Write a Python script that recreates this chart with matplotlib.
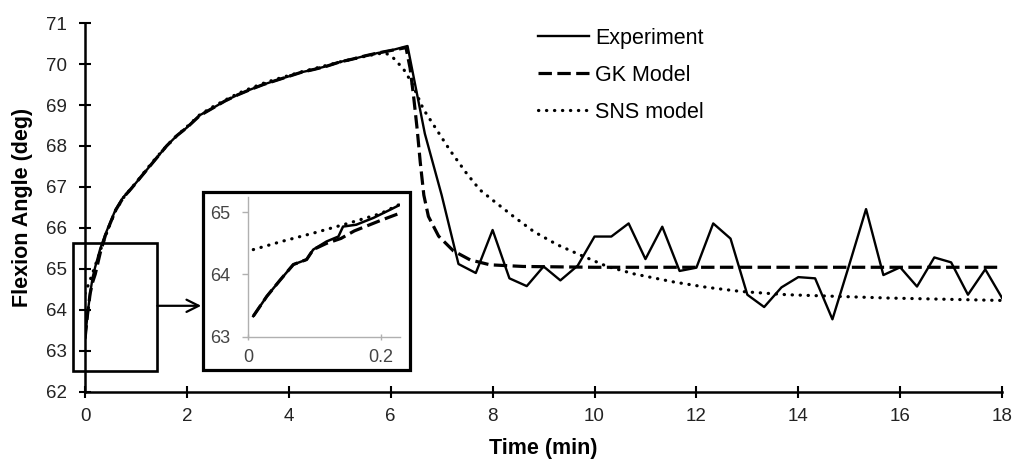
import matplotlib
matplotlib.use("Agg")
import matplotlib.pyplot as plt
from matplotlib.patches import Rectangle

plt.rcParams['font.family'] = ['Liberation Sans', 'DejaVu Sans']

# experiment (min, deg)
exp_t = [0.0, 0.05, 0.1, 0.15, 0.2, 0.3, 0.4, 0.5, 0.6, 0.75, 0.9, 1.0, 1.2, 1.4,
         1.6, 1.8, 2.0, 2.25, 2.5, 2.75, 3.0, 3.25, 3.5, 3.75, 4.0, 4.25, 4.5,
         4.75, 5.0, 5.25, 5.5, 5.75, 6.0,
         6.33, 6.67, 7.0, 7.33, 7.67, 8.0, 8.33, 8.67, 9.0, 9.33, 9.67, 10.0,
         10.33, 10.67, 11.0, 11.33, 11.67, 12.0, 12.33, 12.67, 13.0, 13.33,
         13.67, 14.0, 14.33, 14.67, 15.0, 15.33, 15.67, 16.0, 16.33, 16.67,
         17.0, 17.33, 17.67, 18.0]
exp_y = [63.3, 63.9, 64.4, 64.8, 65.05, 65.5, 65.85, 66.15, 66.45, 66.75, 66.95,
         67.1, 67.4, 67.7, 68.0, 68.25, 68.45, 68.75, 68.92, 69.1, 69.25, 69.38,
         69.5, 69.6, 69.7, 69.8, 69.87, 69.95, 70.05, 70.12, 70.2, 70.27, 70.33,
         70.44, 68.3, 66.8, 65.12, 64.9, 65.95, 64.77, 64.58, 65.06, 64.72,
         65.08, 65.79, 65.79, 66.11, 65.24, 66.03, 64.95, 65.03, 66.11, 65.74,
         64.37, 64.07, 64.55, 64.8, 64.77, 63.77, 65.1, 66.46, 64.85, 65.04,
         64.57, 65.28, 65.16, 64.37, 64.99, 64.29]

# GK model
gk_t = [0.0, 0.05, 0.1, 0.15, 0.2, 0.3, 0.4, 0.5, 0.6, 0.75, 0.9, 1.0, 1.2, 1.4,
        1.6, 1.8, 2.0, 2.25, 2.5, 2.75, 3.0, 3.25, 3.5, 3.75, 4.0, 4.25, 4.5,
        4.75, 5.0, 5.25, 5.5, 5.75, 6.0, 6.3,
        6.38, 6.45, 6.52, 6.58, 6.65, 6.74, 6.94, 7.23, 7.56, 7.95, 8.6, 10.0, 18.0]
gk_y = [63.3, 63.9, 64.4, 64.68, 64.87, 65.4, 65.82, 66.13, 66.43, 66.74, 66.95,
        67.1, 67.4, 67.7, 68.0, 68.25, 68.45, 68.74, 68.92, 69.1, 69.25, 69.38,
        69.5, 69.6, 69.7, 69.8, 69.87, 69.95, 70.05, 70.12, 70.2, 70.27, 70.33,
        70.4, 69.9, 69.2, 68.4, 67.6, 66.8, 66.28, 65.8, 65.44, 65.22, 65.1,
        65.06, 65.04, 65.04]

# SNS model
sns_t = [0.0, 0.1, 0.2, 0.3, 0.4, 0.5, 0.6, 0.75, 0.9, 1.0, 1.2, 1.4, 1.6, 1.8,
         2.0, 2.25, 2.5, 2.75, 3.0, 3.25, 3.5, 3.75, 4.0, 4.25, 4.5, 4.75, 5.0,
         5.25, 5.5, 5.75, 5.9, 6.05, 6.25, 6.41, 6.64, 6.9, 7.16, 7.49, 7.75,
         8.02, 8.41, 8.81, 9.27, 9.72, 10.25, 10.77, 11.56, 12.21, 12.87,
         13.78, 15.75, 18.0]
sns_y = [64.4, 64.73, 65.08, 65.45, 65.8, 66.12, 66.42, 66.73, 66.96, 67.1,
         67.42, 67.72, 68.0, 68.25, 68.47, 68.76, 68.95, 69.12, 69.28, 69.41,
         69.53, 69.63, 69.72, 69.81, 69.89, 69.97, 70.05, 70.12, 70.19, 70.25,
         70.27, 70.15, 69.88, 69.55, 68.9, 68.4, 67.9, 67.33, 66.93, 66.66,
         66.28, 65.91, 65.59, 65.34, 65.06, 64.88, 64.68, 64.55, 64.45, 64.37,
         64.29, 64.23]

# inset (first 0.23 min)
in_exp_t = [0.0075, 0.028, 0.048, 0.068, 0.088, 0.098, 0.118, 0.136, 0.143,
            0.163, 0.189, 0.214, 0.229]
in_exp_y = [63.33, 63.65, 63.91, 64.16, 64.24, 64.4, 64.53, 64.61, 64.77,
            64.8, 64.91, 65.04, 65.12]
in_gk_t = [0.0075, 0.028, 0.048, 0.068, 0.088, 0.098, 0.118, 0.14, 0.16, 0.2, 0.225]
in_gk_y = [63.33, 63.65, 63.91, 64.16, 64.24, 64.4, 64.5, 64.58, 64.7, 64.87, 64.97]
in_sns_t = [0.0075, 0.05, 0.1, 0.15, 0.2, 0.229]
in_sns_y = [64.4, 64.53, 64.67, 64.82, 64.98, 65.13]

xticks = list(range(0, 19, 2))
yticks = list(range(62, 72))

fig = plt.figure(figsize=(10.16, 4.61), dpi=100)
ax = fig.add_axes([0.0837, 0.150, 0.9026, 0.800])

ax.plot(exp_t, exp_y, color='black', lw=1.7, label='Experiment', zorder=3)
ax.plot(gk_t, gk_y, color='black', lw=2.3, linestyle=(0, (4.2, 1.7)),
        label='GK Model', zorder=4)
ax.plot(sns_t, sns_y, color='black', lw=2.3, linestyle=(0, (0.1, 2.4)),
        dash_capstyle='round', label='SNS model', zorder=5)

ax.set_xlim(0, 18)
ax.set_ylim(62, 71)
ax.set_xticks(xticks)
ax.set_yticks(yticks)
for s in ['top', 'right']:
    ax.spines[s].set_visible(False)
for s in ['left', 'bottom']:
    ax.spines[s].set_linewidth(1.8)
ax.tick_params(direction='inout', length=8.5, width=1.5, labelsize=13.5,
               labelcolor='#222222')
ax.tick_params(axis='y', pad=9)
ax.tick_params(axis='x', pad=7.5)
ax.set_xlabel('Time (min)', fontsize=15.5, fontweight='bold')
ax.set_ylabel('Flexion Angle (deg)', fontsize=15.5, fontweight='bold')
ax.xaxis.set_label_coords(0.5, -0.124)
ax.yaxis.set_label_coords(-0.057, 0.5)

leg = ax.legend(loc='upper left', bbox_to_anchor=(538 / 1016, 0.940),
                bbox_transform=fig.transFigure, frameon=False, fontsize=15.5,
                handlelength=2.35, handletextpad=0.32, labelspacing=0.75,
                borderpad=0, borderaxespad=0)

# zoom box + arrow
ax.add_patch(Rectangle((-0.24, 62.52), 1.66, 3.11, fill=False, lw=1.9,
                       edgecolor='black', clip_on=False, zorder=6))
ax.annotate('', xy=(2.28, 64.1), xytext=(1.42, 64.1),
            arrowprops=dict(arrowstyle='->', lw=1.6, color='black',
                            mutation_scale=22, shrinkA=0, shrinkB=0))

# inset frame
fig.patches.append(Rectangle((0.2001, 0.1974), 0.2034, 0.3868, fill=True,
                             facecolor='white', edgecolor='black', lw=2.3,
                             transform=fig.transFigure, figure=fig, zorder=2))

ins = fig.add_axes([0.2444, 0.2696, 0.1493, 0.3037])
ins.set_zorder(3)
ins.plot(in_exp_t, in_exp_y, color='black', lw=1.8)
ins.plot(in_gk_t, in_gk_y, color='black', lw=2.3, linestyle=(0, (4.2, 1.7)))
ins.plot(in_sns_t, in_sns_y, color='black', lw=2.3, linestyle=(0, (0.1, 2.4)),
         dash_capstyle='round')
ins.set_xlim(0, 0.229)
ins.set_ylim(63, 65.25)
ins.set_xticks([0, 0.2])
ins.set_xticklabels(['0', '0.2'])
ins.set_yticks([63, 64, 65])
for s in ['top', 'right']:
    ins.spines[s].set_visible(False)
for s in ['left', 'bottom']:
    ins.spines[s].set_color('#b0b0b0')
    ins.spines[s].set_linewidth(1.0)
ins.tick_params(axis='y', direction='out', length=4, width=1, color='#b0b0b0',
                labelsize=13, labelcolor='#444444', pad=9)
ins.tick_params(axis='x', direction='inout', length=5, width=1, color='#b0b0b0',
                labelsize=13, labelcolor='#444444', pad=6)
ins.patch.set_alpha(0)

fig.savefig('out.png', dpi=100)
